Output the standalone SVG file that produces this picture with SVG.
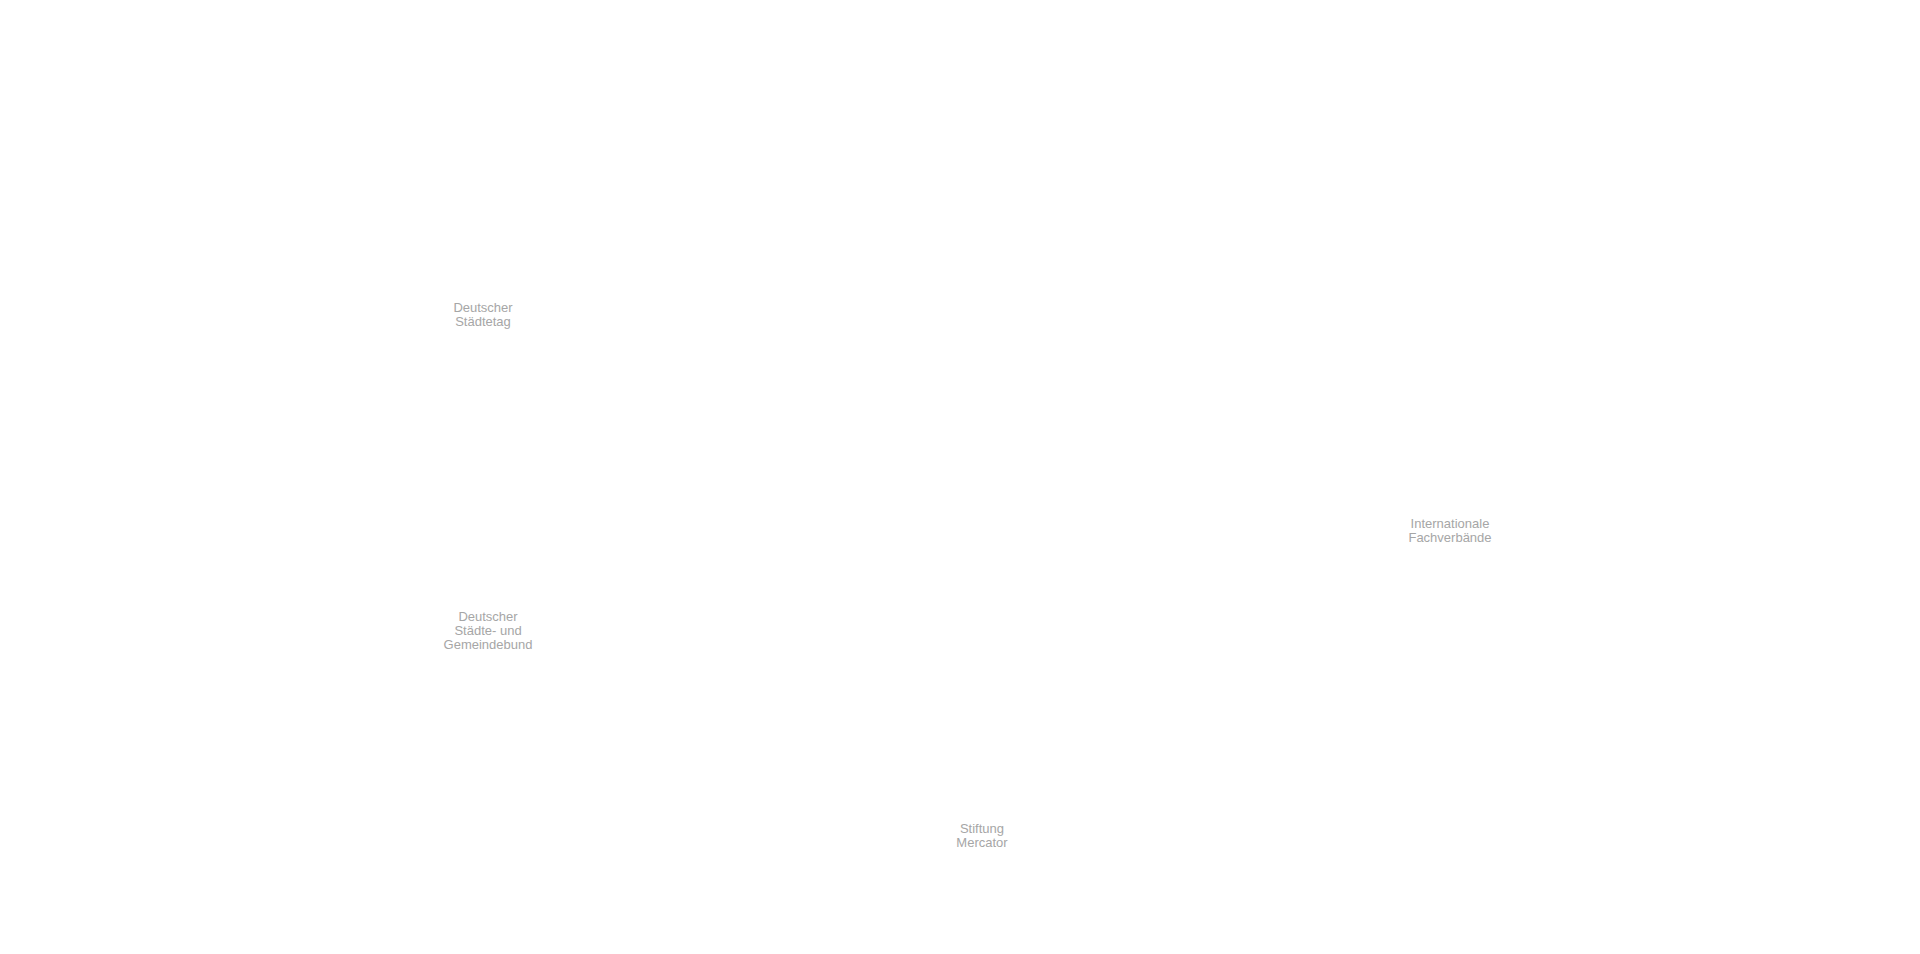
<svg xmlns="http://www.w3.org/2000/svg" width="1920" height="954" viewBox="0 0 1920 954">
<style>
.lbl{font-family:"Liberation Sans",Arial,sans-serif;font-size:13px;fill:#a6a6a6;text-anchor:middle}
</style>
<rect width="1920" height="954" fill="#ffffff"/>
<g id="connectors"></g>
<g id="node-staedtetag"><text class="lbl" x="483" y="312">Deutscher</text><text class="lbl" x="483" y="326">Städtetag</text></g>
<g id="node-dstgb"><text class="lbl" x="488" y="621">Deutscher</text><text class="lbl" x="488" y="635">Städte- und</text><text class="lbl" x="488" y="649">Gemeindebund</text></g>
<g id="node-fachverbaende"><text class="lbl" x="1450" y="528">Internationale</text><text class="lbl" x="1450" y="542">Fachverbände</text></g>
<g id="node-mercator"><text class="lbl" x="982" y="833">Stiftung</text><text class="lbl" x="982" y="847">Mercator</text></g>
</svg>
